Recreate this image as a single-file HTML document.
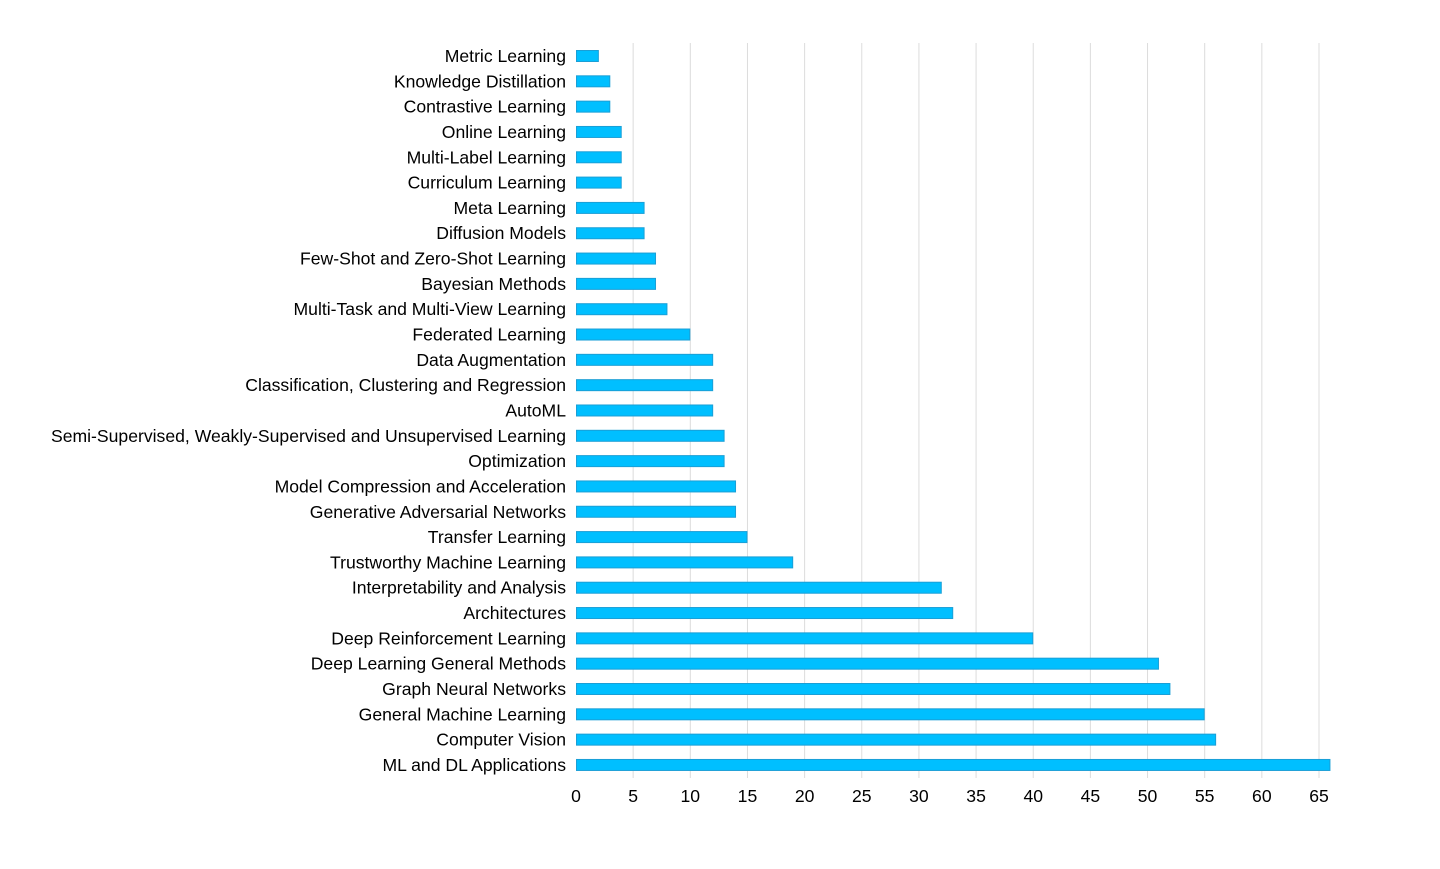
<!DOCTYPE html>
<html><head><meta charset="utf-8"><style>
html,body{margin:0;padding:0;background:#fff;}
svg text{font-family:"Liberation Sans",sans-serif;font-size:17.6px;fill:#000;}
</style></head><body>
<svg width="1440" height="864" xmlns="http://www.w3.org/2000/svg">
<g id="grid" stroke="#dcdcdc" stroke-width="1"></g>
<g id="bars"></g>
<g id="labels"></g>
<g id="ticks"></g>
</svg>
<script>
const data=[["Metric Learning",2],["Knowledge Distillation",3],["Contrastive Learning",3],["Online Learning",4],["Multi-Label Learning",4],["Curriculum Learning",4],["Meta Learning",6],["Diffusion Models",6],["Few-Shot and Zero-Shot Learning",7],["Bayesian Methods",7],["Multi-Task and Multi-View Learning",8],["Federated Learning",10],["Data Augmentation",12],["Classification, Clustering and Regression",12],["AutoML",12],["Semi-Supervised, Weakly-Supervised and Unsupervised Learning",13],["Optimization",13],["Model Compression and Acceleration",14],["Generative Adversarial Networks",14],["Transfer Learning",15],["Trustworthy Machine Learning",19],["Interpretability and Analysis",32],["Architectures",33],["Deep Reinforcement Learning",40],["Deep Learning General Methods",51],["Graph Neural Networks",52],["General Machine Learning",55],["Computer Vision",56],["ML and DL Applications",66]];
const NS="http://www.w3.org/2000/svg",x0=576,s=743/65;
function el(p,t,a,txt){const e=document.createElementNS(NS,t);for(const k in a)e.setAttribute(k,a[k]);if(txt!==undefined)e.textContent=txt;document.getElementById(p).appendChild(e);}
for(let v=5;v<=65;v+=5){const x=x0+v*s;el("grid","line",{x1:x,x2:x,y1:43,y2:778});}
for(let v=0;v<=65;v+=5){const x=x0+v*s;el("ticks","text",{x:x,y:802,"text-anchor":"middle"},v);}
data.forEach((d,i)=>{const y=56+i*25.32;
el("bars","rect",{x:x0+0.5,y:y-5.5,width:d[1]*s-1,height:11,fill:"#00bfff",stroke:"#1a9fd6","stroke-width":1});
el("labels","text",{x:566,y:y+6,"text-anchor":"end"},d[0]);});
</script>
</body></html>
